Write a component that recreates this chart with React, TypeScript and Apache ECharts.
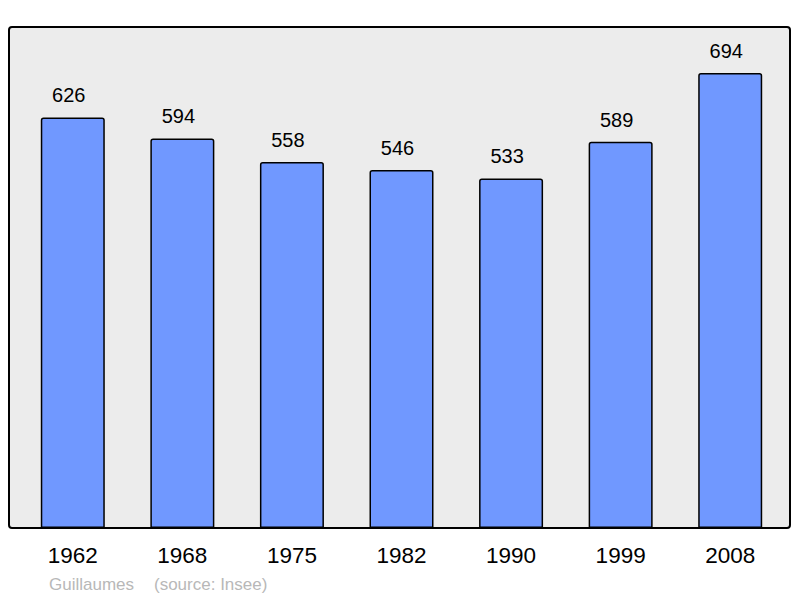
import React, { useEffect, useRef } from 'react';
import * as echarts from 'echarts';

const years = ['1962', '1968', '1975', '1982', '1990', '1999', '2008'];
const population = [626, 594, 558, 546, 533, 589, 694];
const footerAuthor = 'Guillaumes';
const footerSource = '(source: Insee)';

const FONT = '"Liberation Sans", Arial, sans-serif';

const App: React.FC = () => {
  const chartRef = useRef<HTMLDivElement>(null);

  useEffect(() => {
    if (!chartRef.current) return;
    const chart = echarts.init(chartRef.current, undefined, { renderer: 'svg' });

    const option = {
      animation: false,
      grid: { left: 18, right: 15, top: 27, bottom: 70 },
      graphic: [
        {
          type: 'rect',
          z: -10,
          shape: { x: 9, y: 27, width: 781, height: 501, r: 3 },
          style: { fill: '#ececec', stroke: '#000', lineWidth: 2 }
        },
        {
          type: 'text',
          left: 49,
          top: 576,
          style: { text: footerAuthor, fill: '#b8b8b8', font: `17px ${FONT}` }
        },
        {
          type: 'text',
          left: 154,
          top: 576,
          style: { text: footerSource, fill: '#b8b8b8', font: `17px ${FONT}` }
        }
      ],
      xAxis: {
        type: 'category',
        data: years,
        axisLine: { show: false },
        axisTick: { show: false },
        axisLabel: { color: '#000', fontSize: 22.5, fontFamily: FONT, margin: 16 }
      },
      yAxis: {
        type: 'value',
        min: 0,
        max: 764,
        show: false,
        splitLine: { show: false }
      },
      series: [
        {
          type: 'bar',
          data: population,
          barWidth: 64,
          itemStyle: {
            color: '#7098ff',
            borderColor: '#000',
            borderWidth: 1.5,
            borderRadius: [2, 2, 0, 0]
          },
          label: {
            show: true,
            position: 'top',
            distance: 12,
            offset: [-4, 0],
            color: '#000',
            fontSize: 20,
            fontFamily: FONT
          }
        }
      ]
    };

    chart.setOption(option);
    return () => {
      chart.dispose();
    };
  }, []);

  return (
    <div
      ref={chartRef}
      style={{ position: 'fixed', left: 0, top: 0, width: 800, height: 598, background: '#fff' }}
    />
  );
};

export default App;
